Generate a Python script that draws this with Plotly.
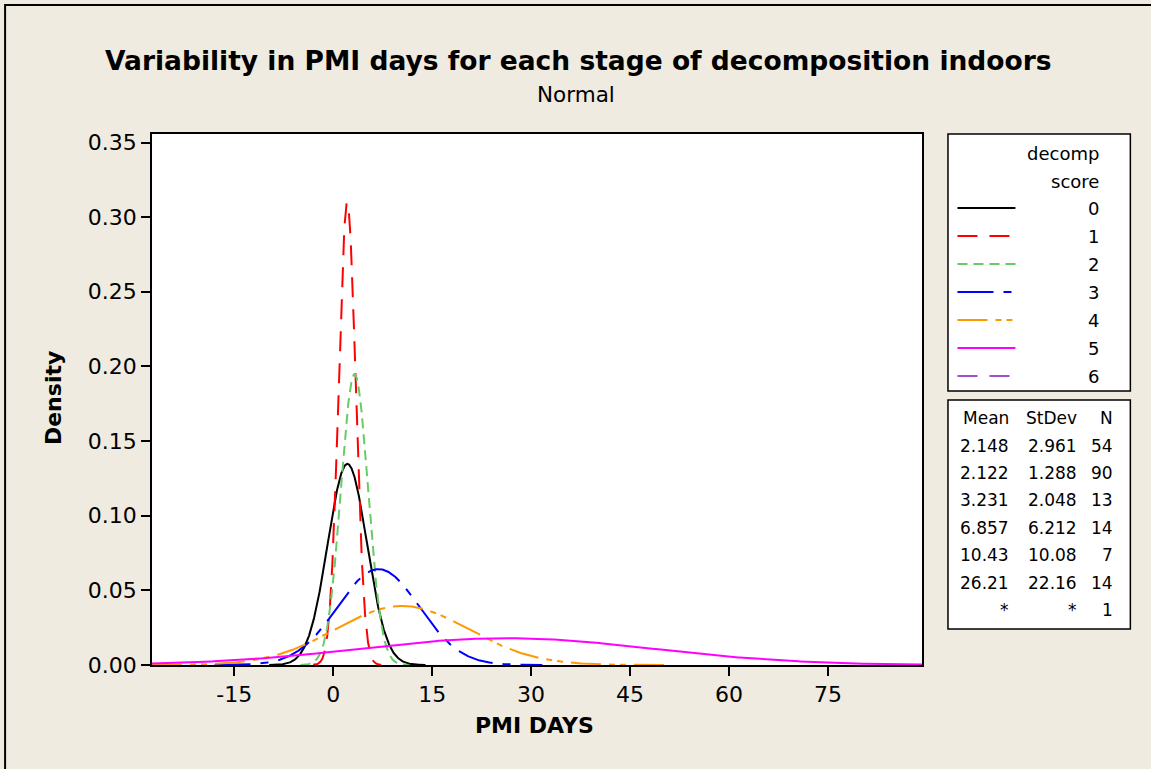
import numpy as np
import plotly.graph_objects as go

groups = ["0", "1", "2", "3", "4", "5", "6"]
means = [2.148, 2.122, 3.231, 6.857, 10.43, 26.21, None]
stdevs = [2.961, 1.288, 2.048, 6.212, 10.08, 22.16, None]
counts = [54, 90, 13, 14, 7, 14, 1]
mean_labels = ["2.148", "2.122", "3.231", "6.857", "10.43", "26.21", "*"]
stdev_labels = ["2.961", "1.288", "2.048", "6.212", "10.08", "22.16", "*"]
x_ticks = [-15, 0, 15, 30, 45, 60, 75]
x_tick_labels = ["-15", "0", "15", "30", "45", "60", "75"]

colors = ["#000000", "#FF0000", "#66CC66", "#0000FF", "#FF9900", "#FF00FF", "#9B4FC8"]
dashes = ["solid", "20px,12px", "10px,6px", "36px,10px,8px,10px",
          "30px,8px,6px,5px,6px,8px", "solid", "20px,12px"]

X_MIN, X_MAX = -27.47, 89.27
Y_MIN, Y_MAX = 0.0, 0.3557

W, H = 1151, 769
L, R, T, B = 152, 922.5, 134, 665
FONT = "DejaVu Sans"
BG = "#EFEBE1"


def px(x):
    return (x - L) / (R - L)


def py(y):
    return (B - y) / (B - T)


fig = go.Figure()

# Normal density curves from each group's mean and standard deviation
for g, m, s, c, d in zip(groups, means, stdevs, colors, dashes):
    if m is None or s is None:
        continue
    lo = max(X_MIN, m - 4 * s)
    hi = min(X_MAX, m + 4 * s)
    xs = np.linspace(lo, hi, 600)
    ys = np.exp(-0.5 * ((xs - m) / s) ** 2) / (s * np.sqrt(2 * np.pi))
    fig.add_trace(go.Scatter(x=xs, y=ys, mode="lines", name=g,
                             line=dict(color=c, width=2, dash=d),
                             showlegend=False, hoverinfo="skip"))

shapes = []
annotations = []

# outer figure frame (left and top edges visible)
shapes.append(dict(type="rect", xref="paper", yref="paper",
                   x0=px(5), x1=px(1170), y0=py(790), y1=py(5),
                   line=dict(color="#000000", width=2), fillcolor="rgba(0,0,0,0)",
                   layer="below"))

# legend box 1
shapes.append(dict(type="rect", xref="paper", yref="paper",
                   x0=px(948.5), x1=px(1131), y0=py(391), y1=py(134),
                   line=dict(color="#000000", width=1.5), fillcolor="#FFFFFF"))
# legend box 2
shapes.append(dict(type="rect", xref="paper", yref="paper",
                   x0=px(948.5), x1=px(1131), y0=py(629), y1=py(400),
                   line=dict(color="#000000", width=1.5), fillcolor="#FFFFFF"))

annotations.append(dict(text="decomp", xref="paper", yref="paper", x=px(1102), y=py(153),
                        xanchor="right", yanchor="middle", showarrow=False,
                        font=dict(family=FONT, size=18, color="#000")))
annotations.append(dict(text="score", xref="paper", yref="paper", x=px(1102), y=py(181),
                        xanchor="right", yanchor="middle", showarrow=False,
                        font=dict(family=FONT, size=18, color="#000")))

row_y0, row_dy = 208, 28
for i, (g, c, d) in enumerate(zip(groups, colors, dashes)):
    yy = row_y0 + i * row_dy
    shapes.append(dict(type="line", xref="paper", yref="paper",
                       x0=px(958), x1=px(1016), y0=py(yy), y1=py(yy),
                       line=dict(color=c, width=2, dash=d)))
    annotations.append(dict(text=g, xref="paper", yref="paper", x=px(1102), y=py(yy),
                            xanchor="right", yanchor="middle", showarrow=False,
                            font=dict(family=FONT, size=18, color="#000")))

# statistics table
col_right = [1012, 1080, 1116]
headers = ["Mean", "StDev", "N"]
for h, cx in zip(headers, col_right):
    annotations.append(dict(text=h, xref="paper", yref="paper", x=px(cx), y=py(418),
                            xanchor="right", yanchor="middle", showarrow=False,
                            font=dict(family=FONT, size=17, color="#000")))
tab_y0, tab_dy = 445.5, 27.4
for i in range(len(groups)):
    yy = tab_y0 + i * tab_dy
    for txt, cx in zip([mean_labels[i], stdev_labels[i], str(counts[i])], col_right):
        annotations.append(dict(text=txt, xref="paper", yref="paper", x=px(cx), y=py(yy),
                                xanchor="right", yanchor="middle", showarrow=False,
                                font=dict(family=FONT, size=17, color="#000")))

# titles
annotations.append(dict(text="<b>Variability in PMI days for each stage of decomposition indoors</b>",
                        xref="paper", yref="paper", x=px(579), y=py(61),
                        xanchor="center", yanchor="middle", showarrow=False,
                        font=dict(family=FONT, size=26.5, color="#000")))
annotations.append(dict(text="Normal", xref="paper", yref="paper", x=px(576), y=py(95),
                        xanchor="center", yanchor="middle", showarrow=False,
                        font=dict(family=FONT, size=21.5, color="#000")))
annotations.append(dict(text="<b>PMI DAYS</b>", xref="paper", yref="paper", x=px(535), y=py(725),
                        xanchor="center", yanchor="middle", showarrow=False,
                        font=dict(family=FONT, size=22, color="#000")))
annotations.append(dict(text="<b>Density</b>", xref="paper", yref="paper", x=px(53), y=py(398),
                        xanchor="center", yanchor="middle", showarrow=False, textangle=-90,
                        font=dict(family=FONT, size=22, color="#000")))

fig.update_layout(
    width=W, height=H,
    margin=dict(l=L, r=W - R, t=T, b=H - B, pad=0),
    paper_bgcolor=BG, plot_bgcolor="#FFFFFF",
    showlegend=False,
    shapes=shapes, annotations=annotations,
    font=dict(family=FONT, color="#000"),
)
fig.update_xaxes(range=[X_MIN, X_MAX], tickvals=x_ticks, ticktext=x_tick_labels,
                 ticks="outside", ticklen=9,
                 tickwidth=1.5, tickcolor="#000", showline=True, linecolor="#000",
                 linewidth=1.5, mirror=True, showgrid=False, zeroline=False,
                 tickfont=dict(family=FONT, size=22, color="#000"))
fig.update_yaxes(range=[Y_MIN, Y_MAX], tick0=0, dtick=0.05, tickformat=".2f",
                 ticks="outside", ticklen=9, tickwidth=1.5, tickcolor="#000",
                 showline=True, linecolor="#000", linewidth=1.5, mirror=True,
                 showgrid=False, zeroline=False,
                 tickfont=dict(family=FONT, size=22, color="#000"))

fig.write_html("out.html")
